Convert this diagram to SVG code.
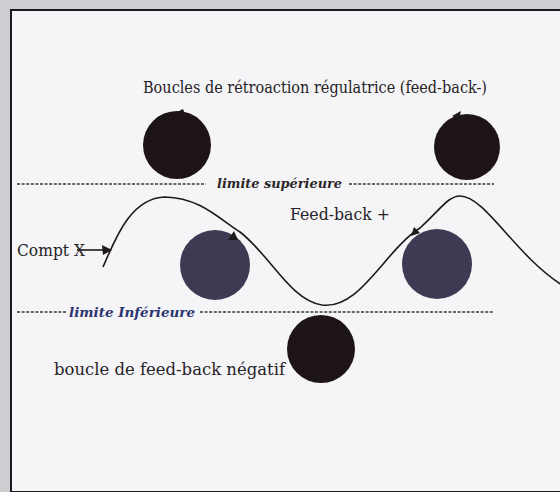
<svg xmlns="http://www.w3.org/2000/svg" width="560" height="492" viewBox="0 0 560 492">
<style>
.t{font-family:"DejaVu Serif","Liberation Serif",serif;fill:#262326}
.lim{font-family:"DejaVu Serif","Liberation Serif",serif;font-style:italic;font-weight:bold;font-size:13px}
.dash{stroke:#3a3838;stroke-width:1.3;stroke-dasharray:3 1.6;fill:none}
.wave{fill:none;stroke:#1e1a1c;stroke-width:1.6}
.ah{fill:#1e1a1c}
.dark{fill:#1c1418}
.mid{fill:#3e3a53}
</style>
<rect x="0" y="0" width="560" height="492" fill="#cfcdd2"/>
<rect x="11" y="10" width="560" height="482" fill="#f5f4f6" stroke="#1a1a22" stroke-width="2"/>
<g id="title"><text class="t" x="143" y="93" font-size="17" textLength="344" lengthAdjust="spacingAndGlyphs">Boucles de rétroaction régulatrice (feed-back-)</text></g>
<g id="top-left-loop"><circle class="dark" cx="177" cy="145" r="34"/><polygon class="ah" points="177,112 183,109 185,114"/></g>
<g id="top-right-loop"><circle class="dark" cx="467" cy="147" r="33"/><polygon class="ah" points="452,116 461,111 459,119"/></g>
<g id="limite-sup">
<line class="dash" x1="17" y1="184" x2="206" y2="184"/>
<text class="lim" x="217" y="188" fill="#2a2628" textLength="125" lengthAdjust="spacingAndGlyphs">limite supérieure</text>
<line class="dash" x1="349" y1="184" x2="494" y2="184"/>
</g>
<g id="feedback-plus"><text class="t" x="290" y="220" font-size="17" textLength="100" lengthAdjust="spacingAndGlyphs">Feed-back +</text></g>
<g id="mid-left-loop"><circle class="mid" cx="215" cy="265" r="35"/></g>
<g id="mid-right-loop"><circle class="mid" cx="437" cy="264" r="35"/></g>
<g id="compt-x"><text class="t" x="17" y="256" font-size="17" textLength="68" lengthAdjust="spacingAndGlyphs">Compt X</text></g>
<g id="limite-inf">
<line class="dash" x1="17" y1="312" x2="67" y2="312"/>
<text class="lim" x="69" y="317" fill="#2c3470" textLength="126" lengthAdjust="spacingAndGlyphs">limite Inférieure</text>
<line class="dash" x1="200" y1="312" x2="494" y2="312"/>
</g>
<g id="bottom-loop"><circle class="dark" cx="321" cy="349" r="34"/></g>
<g id="negative-label"><text class="t" x="54" y="375" font-size="17" textLength="231" lengthAdjust="spacingAndGlyphs">boucle de feed-back négatif</text></g>
<g id="connectors">
<path class="wave" d="M103,267 C115,240 130,198 165,197 C200,198 218,218 240,232 C270,255 290,300 322,305 C360,310 385,250 420,228 C440,210 448,196 460,196 C485,196 515,255 562,285"/>
<line class="wave" x1="77" y1="250" x2="104" y2="250"/>
<polygon class="ah" points="112,250 102,245 103,255"/>
<polygon class="ah" points="238,240 228,240 234,231"/>
<polygon class="ah" points="411,236 414,227 420,233"/>
</g>
</svg>
